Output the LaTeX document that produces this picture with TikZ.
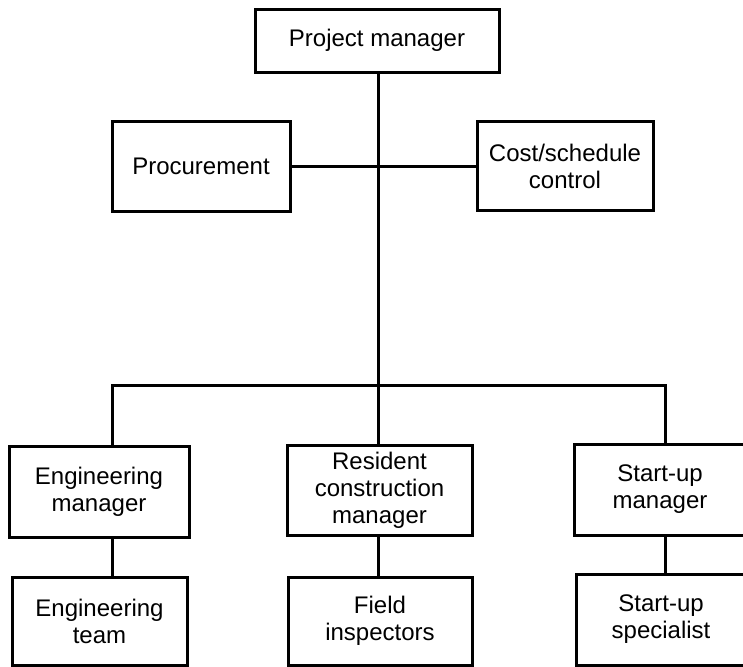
\documentclass[tikz,border=0pt]{standalone}
\usepackage{fontspec}
\setmainfont{Liberation Sans}
\begin{document}
\begin{tikzpicture}[x=0.5pt,y=-0.5pt,
  box/.style={draw, line width=1.5pt, inner sep=0pt, align=center,
    font=\fontsize{12}{13.5}\selectfont},
  link/.style={line width=1.5pt}]
\useasboundingbox (0,0) rectangle (743,666);
\clip (0,0) rectangle (743,666);
% top
\node[box, minimum width=122pt, minimum height=31.5pt] (pm) at (377,40.5) {Project manager};
\node[box, minimum width=89pt, minimum height=45pt] (proc) at (201,166) {Procurement};
\node[box, minimum width=88pt, minimum height=44.5pt] (cost) at (565,166) {Cost/schedule\\control};
% middle row
\node[box, minimum width=90pt, minimum height=45.5pt] (em) at (99,491.5) {Engineering\\manager};
\node[box, minimum width=92.5pt, minimum height=45pt] (rcm) at (379.5,490) {Resident\\construction\\manager};
\node[box, minimum width=86pt, minimum height=45.5pt] (sm) at (660,489.5) {Start-up\\manager};
% bottom row
\node[box, minimum width=87.5pt, minimum height=44pt] (et) at (99.5,621) {Engineering\\team};
\node[box, minimum width=92pt, minimum height=44pt] (fi) at (380,621) {Field\\inspectors};
\node[box, minimum width=85pt, minimum height=45.5pt] (ss) at (661,619.5) {Start-up\\specialist};
% bus coordinates
\coordinate (bl) at (112,385);
\coordinate (bc) at (378,385);
\coordinate (br) at (665,385);
% connectors
\draw[link] (pm.south -| bc) -- (bc);
\draw[link] (proc.east) -- (cost.west);
\draw[link] (bl |- em.north) -- (bl) -- (br) -- (br |- sm.north);
\draw[link] (bc) -- (bc |- rcm.north);
\draw[link] (em.south -| bl) -- (et.north -| bl);
\draw[link] (rcm.south -| bc) -- (fi.north -| bc);
\draw[link] (sm.south -| br) -- (ss.north -| br);
\end{tikzpicture}
\end{document}
